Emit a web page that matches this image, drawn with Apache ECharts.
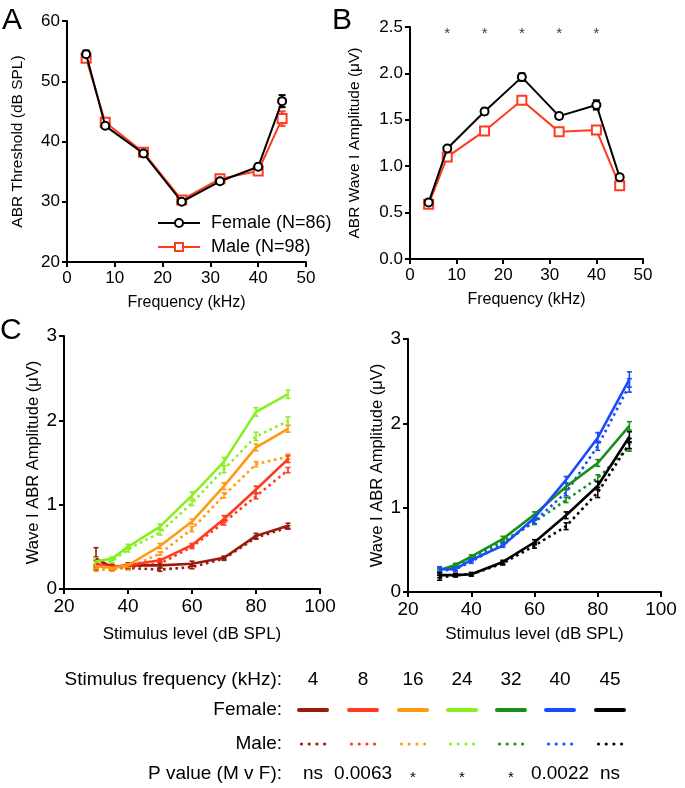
<!DOCTYPE html>
<html><head><meta charset="utf-8">
<script src="https://cdn.jsdelivr.net/npm/echarts@6/dist/echarts.min.js"></script>
<style>html,body{margin:0;padding:0;background:#fff}#c{width:685px;height:788px}</style>
</head><body><div id="c"></div>
<script>
const FONT = '"Liberation Sans", Arial, Helvetica, sans-serif';

// ---------- Panel A: ABR thresholds ----------
const freqKHz = [4, 8, 16, 24, 32, 40, 45];
const thrFemale = [54.5, 42.6, 38.0, 30.0, 33.4, 35.8, 46.7];
const thrFemaleErr = [0.6, 0.4, 0.3, 0.3, 0.4, 0.5, 1.0];
const thrMale = [53.8, 43.2, 38.2, 30.3, 33.8, 35.1, 43.8];
const thrMaleErr = [0.5, 0.4, 0.3, 0.3, 0.4, 0.4, 1.2];

// ---------- Panel B: wave I amplitude ----------
const ampFemale = [0.61, 1.19, 1.59, 1.96, 1.54, 1.66, 0.88];
const ampFemaleErr = [0.02, 0.02, 0.03, 0.04, 0.03, 0.05, 0.03];
const ampMale = [0.59, 1.10, 1.38, 1.71, 1.37, 1.39, 0.79];
const ampMaleErr = [0.02, 0.02, 0.03, 0.03, 0.03, 0.03, 0.02];
const sigFreqs = [8, 16, 24, 32, 40];
const sigLevel = 2.46;

// ---------- Panel C: growth functions ----------
const levels = [30, 35, 40, 50, 60, 70, 80, 90];
const F4  = [0.36, 0.26, 0.28, 0.28, 0.30, 0.37, 0.63, 0.75];
const F4e = [0.13, 0.03, 0.03, 0.03, 0.03, 0.02, 0.03, 0.03];
const M4  = [0.33, 0.26, 0.25, 0.23, 0.26, 0.36, 0.61, 0.73];
const M4e = [0.05, 0.03, 0.02, 0.02, 0.02, 0.02, 0.02, 0.02];
const F8  = [0.30, 0.26, 0.28, 0.34, 0.52, 0.83, 1.18, 1.54];
const F8e = [0.04, 0.02, 0.02, 0.02, 0.02, 0.04, 0.04, 0.04];
const M8  = [0.27, 0.25, 0.26, 0.30, 0.50, 0.79, 1.10, 1.41];
const M8e = [0.03, 0.02, 0.02, 0.02, 0.02, 0.03, 0.03, 0.03];
const F16  = [0.27, 0.25, 0.28, 0.51, 0.80, 1.22, 1.68, 1.90];
const F16e = [0.03, 0.02, 0.02, 0.03, 0.03, 0.04, 0.04, 0.04];
const M16  = [0.23, 0.23, 0.25, 0.42, 0.71, 1.11, 1.48, 1.57];
const M16e = [0.02, 0.02, 0.02, 0.02, 0.03, 0.03, 0.03, 0.03];
const F24  = [0.33, 0.36, 0.50, 0.74, 1.11, 1.51, 2.10, 2.31];
const F24e = [0.04, 0.02, 0.03, 0.03, 0.04, 0.05, 0.05, 0.05];
const M24  = [0.30, 0.33, 0.47, 0.67, 1.02, 1.42, 1.81, 1.99];
const M24e = [0.03, 0.02, 0.03, 0.03, 0.03, 0.04, 0.05, 0.05];
const F32  = [0.26, 0.32, 0.42, 0.63, 0.92, 1.25, 1.53, 1.97];
const F32e = [0.03, 0.02, 0.02, 0.03, 0.03, 0.04, 0.04, 0.05];
const M32  = [0.23, 0.31, 0.40, 0.60, 0.83, 1.09, 1.35, 1.72];
const M32e = [0.03, 0.02, 0.02, 0.02, 0.03, 0.03, 0.04, 0.05];
const F40  = [0.27, 0.27, 0.38, 0.55, 0.88, 1.33, 1.83, 2.52];
const F40e = [0.03, 0.02, 0.02, 0.02, 0.03, 0.04, 0.06, 0.09];
const M40  = [0.25, 0.27, 0.36, 0.57, 0.84, 1.18, 1.73, 2.45];
const M40e = [0.03, 0.02, 0.02, 0.02, 0.03, 0.04, 0.05, 0.08];
const F45  = [0.20, 0.20, 0.21, 0.356, 0.59, 0.91, 1.26, 1.84];
const F45e = [0.03, 0.02, 0.02, 0.02, 0.03, 0.04, 0.05, 0.06];
const M45  = [0.17, 0.20, 0.21, 0.34, 0.55, 0.78, 1.18, 1.76];
const M45e = [0.03, 0.02, 0.02, 0.02, 0.03, 0.04, 0.06, 0.06];

// Legend table
const legendFreqLabels = ['4', '8', '16', '24', '32', '40', '45'];
const pValues = ['ns', '0.0063', '*', '*', '*', '0.0022', 'ns'];

const freqColors = ['#9a1a0c', '#ff3a1e', '#ff9a14', '#88f020', '#16901a', '#1a4bff', '#000000'];
const RED = '#ff3b20';

const femaleSets = [[F4,F4e],[F8,F8e],[F16,F16e],[F24,F24e],[F32,F32e],[F40,F40e],[F45,F45e]];
const maleSets   = [[M4,M4e],[M8,M8e],[M16,M16e],[M24,M24e],[M32,M32e],[M40,M40e],[M45,M45e]];
const panelOf = [2, 2, 2, 2, 3, 3, 3];

function errSeries(name, xs, ys, es, axis, color, capW, lw, z) {
  return {
    type: 'custom', name: name, xAxisIndex: axis, yAxisIndex: axis, z: z, silent: true,
    data: xs.map((x, i) => [x, ys[i], es[i]]),
    encode: { x: 0, y: 1 },
    renderItem: (params, api) => {
      const x = api.value(0), y = api.value(1), e = api.value(2);
      const p1 = api.coord([x, y + e]), p2 = api.coord([x, y - e]);
      const h = capW / 2;
      const style = { stroke: color, lineWidth: lw, fill: null };
      return { type: 'group', children: [
        { type: 'line', shape: { x1: p1[0], y1: p1[1], x2: p2[0], y2: p2[1] }, style: style },
        { type: 'line', shape: { x1: p1[0] - h, y1: p1[1], x2: p1[0] + h, y2: p1[1] }, style: style },
        { type: 'line', shape: { x1: p2[0] - h, y1: p2[1], x2: p2[0] + h, y2: p2[1] }, style: style }
      ]};
    }
  };
}

function pairs(xs, ys) { return xs.map((x, i) => [x, ys[i]]); }

const axisLineStyle = { show: true, onZero: false, lineStyle: { color: '#000', width: 2 } };
const tickStyle = { show: true, length: 5, lineStyle: { color: '#000', width: 2 } };

function xAx(grid, min, max, interval, name, labelSize, nameSize, nameGap) {
  return {
    type: 'value', gridIndex: grid, min: min, max: max, interval: interval,
    name: name, nameLocation: 'middle', nameGap: nameGap,
    nameTextStyle: { fontFamily: FONT, fontSize: nameSize, color: '#000' },
    axisLine: axisLineStyle, axisTick: tickStyle, splitLine: { show: false },
    axisLabel: { fontFamily: FONT, fontSize: labelSize, color: '#000', margin: 8 }
  };
}
function yAx(grid, min, max, interval, name, labelSize, nameSize, nameGap, fmt) {
  return {
    type: 'value', gridIndex: grid, min: min, max: max, interval: interval,
    name: name, nameLocation: 'middle', nameGap: nameGap,
    nameTextStyle: { fontFamily: FONT, fontSize: nameSize, color: '#000' },
    axisLine: axisLineStyle, axisTick: tickStyle, splitLine: { show: false },
    axisLabel: { fontFamily: FONT, fontSize: labelSize, color: '#000', margin: 7, formatter: fmt }
  };
}

const series = [];
// Panel A
series.push(errSeries('errAF', freqKHz, thrFemale, thrFemaleErr, 0, '#000', 7, 2, 1));
series.push(errSeries('errAM', freqKHz, thrMale, thrMaleErr, 0, RED, 7, 2, 1));
series.push({
  type: 'line', name: 'Male (N=98)', xAxisIndex: 0, yAxisIndex: 0, z: 2,
  data: pairs(freqKHz, thrMale), symbol: 'rect', symbolSize: 9,
  lineStyle: { color: RED, width: 2 }, itemStyle: { color: '#fff', borderColor: RED, borderWidth: 2 }
});
series.push({
  type: 'line', name: 'Female (N=86)', xAxisIndex: 0, yAxisIndex: 0, z: 3,
  data: pairs(freqKHz, thrFemale), symbol: 'circle', symbolSize: 8,
  lineStyle: { color: '#000', width: 2 }, itemStyle: { color: '#fff', borderColor: '#000', borderWidth: 2 }
});
// Panel B
series.push(errSeries('errBF', freqKHz, ampFemale, ampFemaleErr, 1, '#000', 7, 2, 1));
series.push(errSeries('errBM', freqKHz, ampMale, ampMaleErr, 1, RED, 7, 2, 1));
series.push({
  type: 'line', name: 'Male B', xAxisIndex: 1, yAxisIndex: 1, z: 2,
  data: pairs(freqKHz, ampMale), symbol: 'rect', symbolSize: 9,
  lineStyle: { color: RED, width: 2 }, itemStyle: { color: '#fff', borderColor: RED, borderWidth: 2 }
});
series.push({
  type: 'line', name: 'Female B', xAxisIndex: 1, yAxisIndex: 1, z: 3,
  data: pairs(freqKHz, ampFemale), symbol: 'circle', symbolSize: 8,
  lineStyle: { color: '#000', width: 2 }, itemStyle: { color: '#fff', borderColor: '#000', borderWidth: 2 }
});
series.push({
  type: 'scatter', name: 'sig', xAxisIndex: 1, yAxisIndex: 1, silent: true,
  data: sigFreqs.map(f => [f, sigLevel]), symbolSize: 1, itemStyle: { color: 'rgba(0,0,0,0)' },
  label: { show: true, position: 'inside', formatter: '*', fontFamily: FONT, fontSize: 15, color: '#000', offset: [0, 3] }
});
// Panel C
freqKHz.forEach((f, k) => {
  const ax = panelOf[k], col = freqColors[k];
  const [fv, fe] = femaleSets[k];
  const [mv, me] = maleSets[k];
  series.push(errSeries('errCM' + f, levels, mv, me, ax, col, 5, 1.6, 1));
  series.push({
    type: 'line', name: 'Male ' + f + ' kHz', xAxisIndex: ax, yAxisIndex: ax, z: 2,
    data: pairs(levels, mv), showSymbol: false, symbol: 'none',
    lineStyle: { color: col, width: 2.6, type: [2.6, 3.6], cap: 'butt' }
  });
  series.push(errSeries('errCF' + f, levels, fv, fe, ax, col, 5, 1.6, 3));
  series.push({
    type: 'line', name: 'Female ' + f + ' kHz', xAxisIndex: ax, yAxisIndex: ax, z: 4,
    data: pairs(levels, fv), showSymbol: false, symbol: 'none',
    lineStyle: { color: col, width: 2.6 }
  });
});

// Legend table graphics
const colX = [313, 363, 413, 462, 511, 560, 610];
const rowY = { freq: 680, female: 710, male: 744, p: 774 };
const graphics = [];
function txt(t, x, y, size, align, extra) {
  return Object.assign({ type: 'text', x: x, y: y, silent: true,
    style: { text: t, fill: '#000', font: size + 'px ' + FONT, textAlign: align, textVerticalAlign: 'middle' } }, extra || {});
}
graphics.push(txt('A', 2, 21, 30, 'left'));
graphics.push(txt('B', 332, 21, 30, 'left'));
graphics.push(txt('C', 0, 331, 30, 'left'));
graphics.push(txt('Stimulus frequency (kHz):', 282, rowY.freq, 19, 'right'));
graphics.push(txt('Female:', 282, rowY.female, 19, 'right'));
graphics.push(txt('Male:', 282, rowY.male, 19, 'right'));
graphics.push(txt('P value (M v F):', 282, rowY.p, 19, 'right'));
legendFreqLabels.forEach((lab, k) => {
  const cx = colX[k];
  graphics.push(txt(lab, cx, rowY.freq, 19, 'center'));
  graphics.push({ type: 'line', silent: true,
    shape: { x1: cx - 14, y1: rowY.female, x2: cx + 14, y2: rowY.female },
    style: { stroke: freqColors[k], lineWidth: 4, lineCap: 'round' } });
  for (let d = 0; d < 4; d++) {
    graphics.push({ type: 'circle', silent: true,
      shape: { cx: cx - 11.5 + d * 7.7, cy: rowY.male, r: 1.6 },
      style: { fill: freqColors[k] } });
  }
  const p = pValues[k];
  if (p === '*') graphics.push(txt(p, cx, rowY.p + 4, 15, 'center'));
  else graphics.push(txt(p, cx, rowY.p, 19, 'center'));
});

const option = {
  animation: false,
  backgroundColor: '#fff',
  textStyle: { fontFamily: FONT },
  grid: [
    { left: 67, top: 21, width: 239, height: 241 },
    { left: 410, top: 27, width: 233, height: 232 },
    { left: 64, top: 336, width: 256, height: 253 },
    { left: 408, top: 339, width: 253, height: 253 }
  ],
  xAxis: [
    xAx(0, 0, 50, 10, 'Frequency (kHz)', 17, 16, 33),
    xAx(1, 0, 50, 10, 'Frequency (kHz)', 17, 16, 33),
    xAx(2, 20, 100, 20, 'Stimulus level (dB SPL)', 19, 17, 37),
    xAx(3, 20, 100, 20, 'Stimulus level (dB SPL)', 19, 17, 34)
  ],
  yAxis: [
    yAx(0, 20, 60, 10, 'ABR Threshold (dB SPL)', 17, 15.5, 41),
    yAx(1, 0, 2.5, 0.5, 'ABR Wave I Amplitude (\u03bcV)', 17, 15.5, 47, v => v.toFixed(1)),
    yAx(2, 0, 3, 1, 'Wave I ABR Amplitude (\u03bcV)', 19, 16.5, 22),
    yAx(3, 0, 3, 1, 'Wave I ABR Amplitude (\u03bcV)', 19, 16.5, 22)
  ],
  legend: {
    data: ['Female (N=86)', 'Male (N=98)'], orient: 'vertical', left: 152, top: 209,
    itemWidth: 42, itemHeight: 10, itemGap: 6, selectedMode: false,
    textStyle: { fontFamily: FONT, fontSize: 18, color: '#000', padding: [0, 0, 0, 6] }
  },
  series: series,
  graphic: graphics
};

const chart = echarts.init(document.getElementById('c'), null, { renderer: 'canvas' });
chart.setOption(option);
</script>
</body></html>
